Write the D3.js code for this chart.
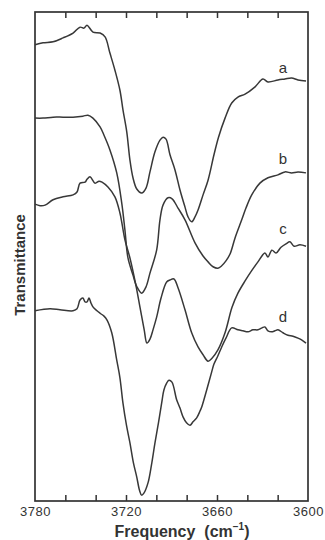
<!DOCTYPE html>
<html>
<head>
<meta charset="utf-8">
<script src="https://cdn.jsdelivr.net/npm/d3@7"></script>
<style>
  html, body { margin: 0; padding: 0; background: #fff; }
  svg text { font-family: "Liberation Sans", Arial, sans-serif; fill: #333; }
</style>
</head>
<body>
<svg id="chart" width="325" height="540"></svg>
<script>
// frequency (cm-1), transmittance (arbitrary units, offset traces)
const traceA = [
  [3780, 93.3], [3774.7, 93.7], [3768.1, 93.9], [3761.5, 94.7], [3754.9, 95.7],
  [3750.3, 96.9], [3747.7, 96.7], [3745.7, 97.3], [3741.8, 95.9], [3737.1, 95.7],
  [3733.8, 94.9], [3730.6, 91.6], [3727.3, 88.1], [3724.0, 84.0], [3722.0, 80.0],
  [3719.5, 75.5], [3717.4, 69.7], [3715.4, 66.1], [3712.9, 63.8], [3709.7, 63.0],
  [3706.8, 64.0], [3704.2, 67.3], [3700.9, 71.4], [3697.6, 73.8], [3695.6, 74.4],
  [3693.6, 74.0], [3691.0, 70.8], [3687.7, 67.7], [3684.4, 63.6], [3681.1, 60.1],
  [3679.1, 58.1], [3676.7, 57.1], [3674.5, 58.1], [3672.5, 59.5], [3669.2, 62.6],
  [3665.9, 65.6], [3662.0, 70.8], [3659.0, 74.4], [3654.7, 78.3], [3650.3, 81.4],
  [3646.2, 82.6], [3641.5, 83.2], [3634.9, 84.7], [3629.7, 86.3], [3626.4, 85.7],
  [3619.8, 86.1], [3615.2, 86.3], [3610.8, 86.5], [3606.6, 86.1], [3601.3, 85.9]
]
const traceB = [
  [3780, 78.3], [3774.7, 78.3], [3768.1, 78.5], [3761.5, 78.5], [3754.9, 78.5],
  [3748.4, 78.7], [3745.1, 78.9], [3741.8, 78.3], [3737.1, 76.5], [3734.5, 74.8],
  [3730.6, 71.8], [3726.1, 67.1], [3722.8, 60.9], [3720.7, 55.4], [3718.7, 49.7],
  [3715.4, 46.2], [3712.8, 43.8], [3709.7, 42.5], [3706.8, 43.8], [3704.2, 46.6],
  [3699.8, 51.3], [3697.6, 57.5], [3695.6, 60.5], [3692.3, 62.0], [3689.6, 61.8],
  [3685.7, 59.9], [3681.1, 57.5], [3674.5, 52.8], [3669.2, 50.1], [3665.9, 48.9],
  [3662.6, 47.9], [3659.4, 47.6], [3656.9, 48.1], [3654.1, 49.1], [3651.4, 50.5],
  [3648.1, 53.8], [3643.7, 57.5], [3640.9, 59.9], [3637.1, 62.6], [3631.7, 65.0],
  [3626.4, 66.1], [3619.8, 66.7], [3615.2, 67.3], [3610.8, 67.1], [3606.6, 67.3],
  [3601.3, 67.1]
]
const traceC = [
  [3780, 60.7], [3776.7, 60.4], [3773.4, 60.5], [3768.1, 61.6], [3761.5, 62.2],
  [3754.9, 62.6], [3752.3, 63.2], [3750.3, 65.0], [3747.0, 65.2], [3745.7, 65.8],
  [3743.7, 66.3], [3740.4, 65.0], [3737.8, 65.4], [3735.8, 65.2], [3731.9, 64.2],
  [3727.3, 62.2], [3724.0, 58.9], [3720.7, 53.4], [3717.4, 49.7], [3713.4, 44.0],
  [3710.7, 39.5], [3708.0, 35.0], [3706.2, 32.3], [3704.2, 33.1], [3702.2, 35.0],
  [3699.8, 37.6], [3696.9, 41.5], [3693.2, 44.8], [3691.0, 45.2], [3688.4, 45.4],
  [3685.7, 43.6], [3681.1, 39.1], [3676.7, 34.4], [3672.5, 31.5], [3669.2, 29.9],
  [3665.9, 28.6], [3663.3, 29.2], [3659.4, 30.9], [3654.7, 34.4], [3650.1, 39.6],
  [3646.2, 42.5], [3641.5, 45.0], [3636.9, 47.2], [3633.0, 48.9], [3628.4, 50.7],
  [3626.4, 49.9], [3623.8, 51.3], [3621.1, 50.7], [3617.8, 51.9], [3614.5, 52.6],
  [3611.9, 53.0], [3609.2, 52.1], [3605.3, 52.4], [3601.3, 52.1]
]
const traceD = [
  [3780, 38.9], [3770.1, 39.3], [3763.5, 39.1], [3754.9, 38.9], [3752.3, 39.3],
  [3750.3, 41.1], [3748.4, 41.5], [3747.0, 40.7], [3745.7, 40.7], [3744.4, 41.5],
  [3743.1, 40.5], [3741.8, 39.7], [3739.1, 38.9], [3737.1, 38.4], [3734.5, 37.8],
  [3732.5, 37.0], [3729.4, 34.4], [3726.1, 28.8], [3724.0, 25.2], [3722.0, 20.0],
  [3719.7, 15.5], [3717.4, 11.9], [3715.1, 7.8], [3712.9, 4.9], [3711.1, 2.2],
  [3709.7, 1.2], [3708.2, 1.6], [3705.5, 3.7], [3703.2, 7.4], [3700.9, 11.9],
  [3698.6, 16.0], [3696.5, 20.0], [3695.0, 22.7], [3693.2, 24.1], [3691.7, 24.7],
  [3689.7, 24.3], [3686.6, 20.7], [3684.4, 19.0], [3682.4, 17.2], [3680.1, 16.0],
  [3677.8, 15.5], [3675.8, 16.2], [3673.4, 17.0], [3671.2, 18.4], [3669.9, 19.4],
  [3666.8, 22.7], [3663.5, 26.4], [3662.0, 28.0], [3659.4, 29.7], [3656.9, 31.5],
  [3654.1, 33.3], [3650.3, 35.4], [3646.2, 35.0], [3642.9, 34.8], [3639.6, 34.6],
  [3636.3, 35.0], [3633.0, 35.0], [3630.3, 35.4], [3628.4, 35.6], [3626.4, 34.8],
  [3624.0, 34.6], [3621.8, 34.8], [3619.8, 35.0], [3616.5, 34.4], [3613.2, 33.9],
  [3609.9, 33.7], [3606.6, 33.3], [3604.0, 32.9], [3601.3, 32.3]
]
const traces = [traceA, traceB, traceC, traceD]
const traceNames = ["a", "b", "c", "d"]
const traceLabelPos = [[3616.5, 87.6], [3616.5, 69.0], [3616.5, 54.6], [3616.5, 36.6]]

const minorTicks = [3760, 3740, 3720, 3700, 3680, 3660, 3640, 3620]
const tickLabels = [3780, 3720, 3660, 3600]

const svg = d3.select("#chart")
const margin = { top: 12, right: 17, bottom: 39, left: 35 }
const width = 325, height = 540
const innerW = width - margin.left - margin.right
const innerH = height - margin.top - margin.bottom

const x = d3.scaleLinear().domain([3780, 3600]).range([0, innerW])
const y = d3.scaleLinear().domain([0, 100]).range([innerH, 0])

const g = svg.append("g").attr("transform", `translate(${margin.left},${margin.top})`)

// inward ticks along bottom and top
const bottomTicks = g.append("g")
  .attr("transform", `translate(0,${innerH})`)
  .call(d3.axisBottom(x).tickValues(minorTicks).tickSize(-6).tickFormat(""))
const topTicks = g.append("g")
  .call(d3.axisTop(x).tickValues(minorTicks).tickSize(-6).tickFormat(""))
;[bottomTicks, topTicks].forEach((a) => {
  a.select(".domain").remove()
  a.selectAll("line").attr("stroke", "#333").attr("stroke-width", 1.5)
})

const labels = g.append("g")
  .attr("transform", `translate(0,${innerH})`)
  .call(d3.axisBottom(x).tickValues(tickLabels).tickSize(0).tickPadding(6).tickFormat(d3.format("d")))
labels.select(".domain").remove()
labels.selectAll("text")
  .attr("font-size", 13)
  .attr("font-family", "Liberation Sans, Arial, sans-serif")
  .attr("fill", "#333")
  .attr("letter-spacing", 0.5)

// frame
g.append("rect")
  .attr("x", 0).attr("y", 0)
  .attr("width", innerW).attr("height", innerH)
  .attr("fill", "none")
  .attr("stroke", "#333")
  .attr("stroke-width", 1.7)

const line = d3.line()
  .x((d) => x(d[0]))
  .y((d) => y(d[1]))
  .curve(d3.curveCatmullRom.alpha(0.5))

traces.forEach((t, i) => {
  g.append("path")
    .datum(t)
    .attr("fill", "none")
    .attr("stroke", "#383838")
    .attr("stroke-width", 1.5)
    .attr("stroke-linejoin", "round")
    .attr("d", line)

  g.append("text")
    .attr("x", x(traceLabelPos[i][0]))
    .attr("y", y(traceLabelPos[i][1]))
    .attr("text-anchor", "middle")
    .attr("font-size", 15)
    .text(traceNames[i])
})

// axis titles
const xTitle = svg.append("text")
  .attr("x", 182)
  .attr("y", 537)
  .attr("text-anchor", "middle")
  .attr("font-size", 16)
  .attr("font-weight", "bold")
xTitle.append("tspan").text("Frequency\u00a0\u00a0(cm")
xTitle.append("tspan").attr("dy", -7).attr("font-size", 10).text("\u22121")
xTitle.append("tspan").attr("dy", 7).text(")")

svg.append("text")
  .attr("transform", "translate(25,265) rotate(-90)")
  .attr("text-anchor", "middle")
  .attr("font-size", 15)
  .attr("font-weight", "bold")
  .text("Transmittance")
</script>
</body>
</html>
